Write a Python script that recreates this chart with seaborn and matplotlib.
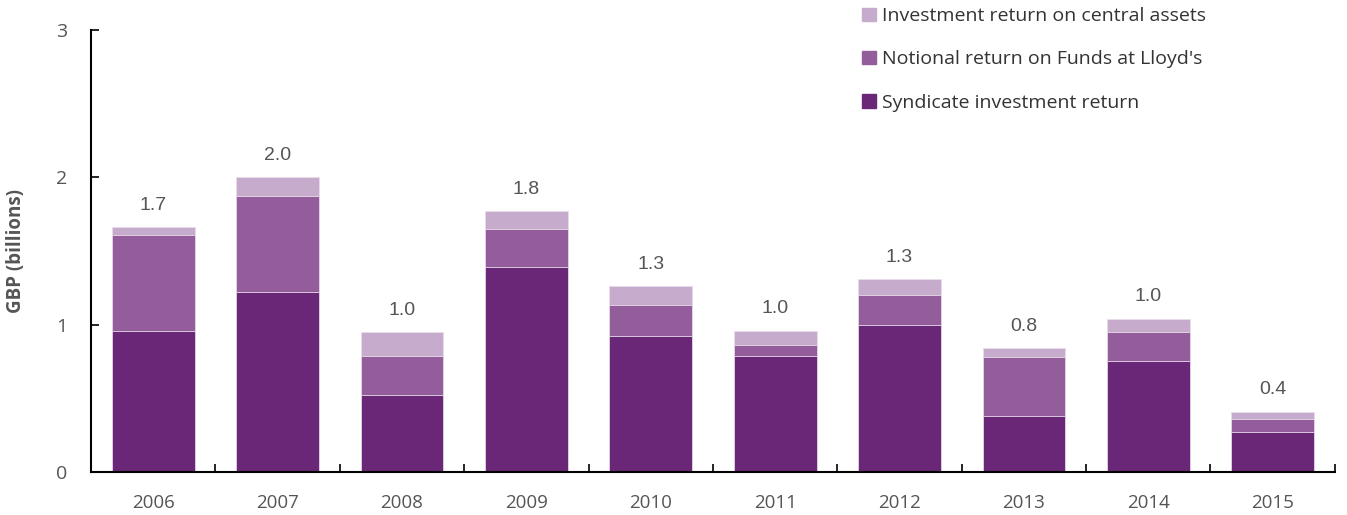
import matplotlib
matplotlib.use("Agg")
import matplotlib.pyplot as plt
import seaborn as sns
import pandas as pd
import numpy as np

years = ["2006", "2007", "2008", "2009", "2010", "2011", "2012", "2013", "2014", "2015"]
syndicate = [0.96, 1.22, 0.52, 1.39, 0.92, 0.79, 1.00, 0.38, 0.75, 0.27]
notional = [0.65, 0.65, 0.27, 0.26, 0.21, 0.07, 0.20, 0.40, 0.20, 0.09]
central = [0.05, 0.13, 0.16, 0.12, 0.13, 0.10, 0.11, 0.06, 0.09, 0.05]

series_names = ["Investment return on central assets",
                "Notional return on Funds at Lloyd's",
                "Syndicate investment return"]
colors = ["#C6ABCD", "#935C9B", "#6B2777"]
text_color = "#555555"

sns.set_theme(style="white")
plt.rcParams["font.family"] = ["Open Sans", "DejaVu Sans"]

df = pd.DataFrame({"year": years, "syndicate": syndicate,
                   "notional": notional, "central": central})
df["mid"] = df["syndicate"] + df["notional"]
df["total"] = df["mid"] + df["central"]

fig = plt.figure(figsize=(13.47, 5.15), dpi=100)
ax = fig.add_axes([0.0676, 0.0835, 0.9234, 0.8585])

# Stacked bars drawn as overlapping cumulative layers
for col, color in zip(["total", "mid", "syndicate"], colors):
    sns.barplot(data=df, x="year", y=col, color=color, width=0.665,
                edgecolor="#E8DCEA", linewidth=0.6, saturation=1, ax=ax)

for i, t in enumerate(df["total"]):
    ax.text(i, t + 0.09, f"{t:.1f}", ha="center", va="bottom",
            fontsize=14, color=text_color, family=["Liberation Sans", "DejaVu Sans"])

ax.set_xlim(-0.5, 9.5)
ax.set_ylim(0, 3)
ax.set_yticks([0, 1, 2, 3])
ax.set_xlabel("")
ax.set_ylabel("GBP (billions)", fontsize=13.5, fontweight="bold", color=text_color, labelpad=22)

for s in ["top", "right"]:
    ax.spines[s].set_visible(False)
for s in ["left", "bottom"]:
    ax.spines[s].set_color("black")
    ax.spines[s].set_linewidth(1.5)

ax.tick_params(axis="y", direction="in", length=6, width=1.2, color="black",
               labelsize=14, labelcolor=text_color, pad=17, left=True)
ax.tick_params(axis="x", bottom=False, labelsize=13.5, labelcolor=text_color, pad=10)
# minor ticks between categories on the x axis
ax.set_xticks(np.arange(0.5, 10, 1.0), minor=True)
ax.tick_params(axis="x", which="minor", direction="in", length=6, width=1.2,
               color="black", bottom=True)

# Legend
handles = [plt.Rectangle((0, 0), 1, 1, color=c) for c in colors]
leg = fig.legend(handles, series_names, loc="upper left",
                 bbox_to_anchor=(0.627, 1.02), frameon=False, fontsize=14,
                 handlelength=0.7, handleheight=0.7, handletextpad=0.35,
                 labelspacing=1.3, labelcolor="#333333")

fig.savefig("out.png", dpi=100)
